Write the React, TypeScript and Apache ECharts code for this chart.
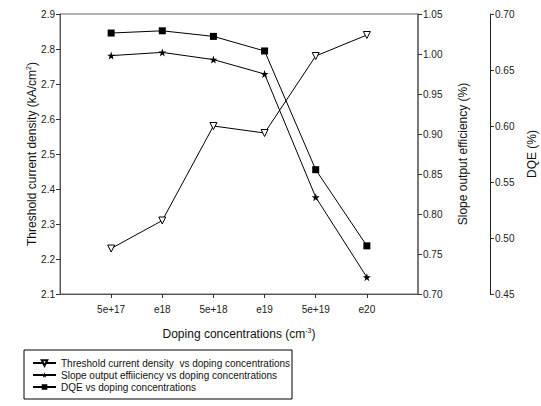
import React, { useEffect, useRef } from "react";
import * as echarts from "echarts";

const categories = ["5e+17", "e18", "5e+18", "e19", "5e+19", "e20"];
const thresholdValues = [2.23, 2.31, 2.58, 2.56, 2.78, 2.84];
const slopeValues = [0.998, 1.002, 0.993, 0.975, 0.821, 0.721];
const dqeValues = [0.683, 0.685, 0.68, 0.667, 0.561, 0.493];
const positions = [1, 2, 3, 4, 5, 6];

const STAR =
  "path://M50,0 L61.8,35.1 L98.1,35.1 L68.8,56.9 L79.4,91.9 L50,70.5 L20.6,91.9 L31.2,56.9 L1.9,35.1 L38.2,35.1 Z";

const FONT = "Liberation Sans";

export default function App() {
  const ref = useRef<HTMLDivElement>(null);
  useEffect(() => {
    const chart = echarts.init(ref.current!, null, { renderer: "svg" });
    const toPairs = (vals: number[]) => vals.map((v, i) => [positions[i], v]);
    const axisBase = {
      axisLine: { show: true, lineStyle: { color: "#555", width: 1 } },
      axisTick: { show: true, inside: false, length: 4, lineStyle: { color: "#333" } },
      splitLine: { show: false },
      axisLabel: { color: "#222", fontSize: 10, fontFamily: FONT, margin: 5 },
      nameTextStyle: { color: "#111", fontSize: 12, fontFamily: FONT },
      nameMoveOverlap: false,
    };
    const rich = {
      a: { fontSize: 12, fontFamily: FONT, color: "#111" },
      sup: { fontSize: 7, fontFamily: FONT, color: "#111", verticalAlign: "top", padding: [0, 0, 6, 0] },
    };
    chart.setOption({
      animation: false,
      backgroundColor: "#fff",
      textStyle: { fontFamily: FONT },
      grid: {
        left: 60,
        right: 123,
        top: 14,
        bottom: 112,
        containLabel: false,
        outerBoundsMode: "none",
        show: true,
        borderColor: "#666",
        borderWidth: 1,
      },
      legend: {
        orient: "vertical",
        left: 24,
        top: 350,
        itemWidth: 23,
        itemHeight: 7,
        itemGap: 2,
        padding: [8, 2, 7, 8],
        borderColor: "#000",
        borderWidth: 1,
        textStyle: { fontSize: 10, fontFamily: FONT, color: "#111" },
        data: [
          "Threshold current density  vs doping concentrations",
          "Slope output effiiciency vs doping concentrations",
          "DQE vs doping concentrations",
        ],
      },
      xAxis: {
        type: "value",
        min: 0,
        max: 7,
        interval: 1,
        ...axisBase,
        axisTick: { ...axisBase.axisTick, customValues: positions },
        axisLabel: {
          ...axisBase.axisLabel,
          margin: 10,
          customValues: positions,
          formatter: (v: number) => categories[Math.round(v) - 1] ?? "",
        },
        name: "{a|Doping concentrations (cm}{sup|-3}{a|)}",
        nameLocation: "middle",
        nameGap: 33,
        nameTextStyle: { ...axisBase.nameTextStyle, rich },
      },
      yAxis: [
        {
          type: "value",
          position: "left",
          min: 2.1,
          max: 2.9,
          interval: 0.1,
          ...axisBase,
          axisLabel: { ...axisBase.axisLabel, formatter: (v: number) => v.toFixed(1) },
          name: "{a|Threshold current density (kA/cm}{sup|2}{a|)}",
          nameLocation: "middle",
          nameRotate: 90,
          nameGap: 22,
          nameTextStyle: { ...axisBase.nameTextStyle, rich },
        },
        {
          type: "value",
          position: "right",
          min: 0.7,
          max: 1.05,
          interval: 0.05,
          ...axisBase,
          axisLine: { show: true, lineStyle: { color: "#666", width: 1.5 } },
          axisLabel: { ...axisBase.axisLabel, formatter: (v: number) => v.toFixed(2) },
          name: "Slope output efficiency (%)",
          nameLocation: "middle",
          nameRotate: 90,
          nameGap: 39,
        },
        {
          type: "value",
          position: "right",
          offset: 72,
          min: 0.45,
          max: 0.7,
          interval: 0.05,
          ...axisBase,
          axisLine: { show: true, lineStyle: { color: "#222", width: 1 } },
          axisLabel: { ...axisBase.axisLabel, formatter: (v: number) => v.toFixed(2) },
          name: "DQE (%)",
          nameLocation: "middle",
          nameRotate: 90,
          nameGap: 36,
        },
      ],
      series: [
        {
          name: "Threshold current density  vs doping concentrations",
          type: "line",
          yAxisIndex: 0,
          data: toPairs(thresholdValues),
          symbol: "triangle",
          symbolRotate: 180,
          symbolSize: 7,
          lineStyle: { color: "#000", width: 1 },
          itemStyle: { color: "#fff", borderColor: "#000", borderWidth: 1 },
        },
        {
          name: "Slope output effiiciency vs doping concentrations",
          type: "line",
          yAxisIndex: 1,
          data: toPairs(slopeValues),
          symbol: STAR,
          symbolSize: 8,
          lineStyle: { color: "#000", width: 1 },
          itemStyle: { color: "#000", borderColor: "#000", borderWidth: 0 },
        },
        {
          name: "DQE vs doping concentrations",
          type: "line",
          yAxisIndex: 2,
          data: toPairs(dqeValues),
          symbol: "rect",
          symbolSize: 7,
          lineStyle: { color: "#000", width: 1 },
          itemStyle: { color: "#000", borderColor: "#000", borderWidth: 0 },
        },
      ],
    });
    return () => chart.dispose();
  }, []);
  return (
    <div
      ref={ref}
      style={{ position: "absolute", left: 0, top: 0, width: 541, height: 406 }}
    />
  );
}
